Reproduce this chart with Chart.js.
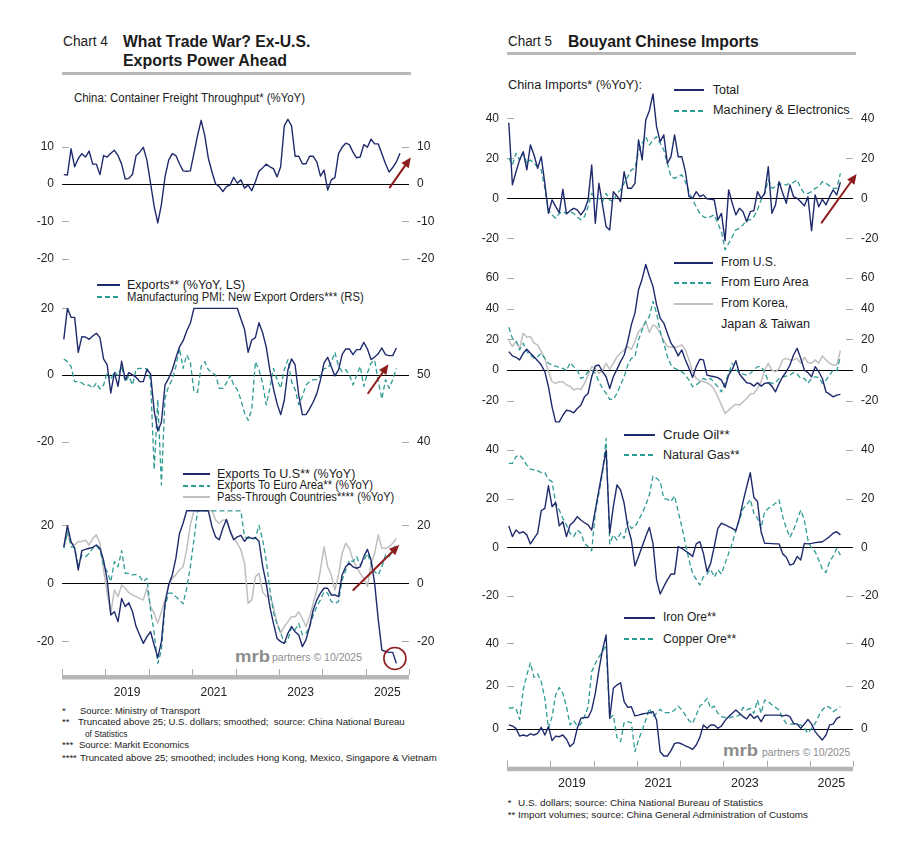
<!DOCTYPE html>
<html><head><meta charset="utf-8"><title>Charts 4 &amp; 5</title>
<script src="https://cdn.jsdelivr.net/npm/chart.js"></script>
<style>
html,body{margin:0;padding:0;background:#fff}
body{width:924px;height:860px;position:relative;overflow:hidden;font-family:"Liberation Sans",Arial,Helvetica,sans-serif;color:#1b1b1b}
.t{position:absolute;white-space:pre;transform-origin:0 50%}
.rule{position:absolute;background:#b8b8b8;height:3.5px}
.ls{position:absolute;height:1.5px}
canvas{position:absolute}
</style></head><body>
<script>
// ---------------- DATA (monthly, Jan 2018 onward) ----------------
const freight = [2.5,2.4,9.4,4.6,6.8,8.1,7.2,8.8,5.3,5.3,2.5,7.6,7.2,8.2,9.0,7.6,5.3,1.3,1.5,2.6,7.6,8.5,9.8,6.3,0.2,-6,-10.4,-5.5,1.9,6.3,8.1,7.6,5.4,3.5,3.4,3.5,8.1,12.9,17,12.9,6.8,3.2,0,-0.7,-2,-0.7,-0.3,1.8,0.2,1.1,-1.1,-0.3,-1.8,0.6,3.4,4.3,5.3,4.6,4.1,1.9,4.6,15.5,17.3,15.5,7.4,7.4,5.4,5.4,7.4,7.4,5.9,2.1,3.7,-1.6,1.1,1.7,8.1,9.8,10.9,10.5,8.5,7.0,7.2,10.5,9.8,12.0,10.7,10.7,8.1,5.4,3.2,4.4,5.9,8.2];
const exportsLS = [10.7,20,17.3,17.3,6.8,11.5,11.4,10.7,11.7,12.5,11.2,4.8,3.0,-5.4,0.7,-3.4,4.1,-1.5,0.7,0,-0.7,-2,-2,1.7,0.3,-10.7,-16.8,-14.2,-3,-1,1.5,5.1,8.4,10.2,13.2,15.5,20,20,20,20,20,20,20,20,20,20,20,20,20,16.8,13.7,6.8,10.5,11.2,15.7,12.7,8.4,1.5,-4.1,-8.6,-11.9,-7.6,1.5,4.8,3,-6.1,-11.9,-11.9,-10.2,-8.1,-5.6,-1.5,3.6,5.3,2.5,-0.3,1.5,6.1,7.8,7.8,6.1,7.6,7.6,9.8,7.8,4.6,5.4,6.4,8.1,6.1,5.8,5.8,8.1];
const pmiExportOrders = [52.4,52,51.3,49,49,48.8,48.4,48.5,48,48.8,47.9,48.5,50.4,49.3,50.5,49.9,51.3,49,49.8,48.5,50.9,51,51,50.9,49.3,35.8,46.3,33.5,46.5,48.3,49.3,51.3,54,51,53,52,47.5,47.4,51.3,52,50.8,50.3,50,48,48,48.8,49.9,48.5,47.8,46.3,44.3,43.2,44.8,52,50.8,48.8,45.5,48,51,49.3,48,50.8,52.3,49,47.8,45.5,46.8,48.5,49,49.3,49.3,49.8,51,51,51.9,53.4,51.3,50.5,50.8,50,48.5,49.9,51.3,48.3,50.3,51.8,52.2,49,46.4,49.3,48,49.3,51];
const exportsToUS = [12.6,19.9,14.4,12.1,4.6,11.3,11.7,12.1,12.4,13.2,12.1,8,1.1,-10.9,-9.8,-13.2,-5.2,-8,-6.7,-9.8,-14.9,-17.8,-20.7,-18.4,-16.7,-21.3,-25.6,-20.1,-6.9,-0.6,2.9,8.6,17.2,20.7,25,25,25,25,25,25,25,19.5,16,15,19,22,18,15,16,16.5,14.5,16,15.5,15.7,14.5,6,0,-8,-13.8,-19,-20.1,-20.7,-17.2,-14.9,-16.7,-17.8,-21.8,-19.5,-14.9,-9.2,-5.7,-3.4,-1.7,-1.7,-4,-4,-4.6,2.9,5.7,6.9,5.7,5.2,5.7,9.2,11.7,8,0,-12.6,-23,-23.5,-23.8,-23.8,-27.6];
const exportsToEuro = [12.1,17.8,12.6,12.4,5.7,9.8,9.2,10.3,12.1,12.9,11.5,6.3,4,0.6,7.5,5.7,11.3,3.4,3.4,2.9,3.1,2.3,0.6,1.7,-9.2,-17.2,-27.6,-23,-8,-3.4,-3.4,-4.6,-5.7,-7.1,-1.7,5.7,14.9,25,25,25,25,25,25,25,25,25,25,25,25,25,16,15.5,15.2,15.5,20,15,8,-2,-10,-14,-17,-20.7,-19.5,-15,-16,-13.8,-17.8,-17.2,-15,-11,-8,-5.7,-2.9,-3.4,-6.3,-6.9,-6.3,1.1,4.6,8,7.5,9.2,6.3,8,10.3,6.9,4,2.9,5.7,9.8,9.2,11.5,13.8];
const passThrough = [12.1,17.2,13.8,13.2,14.4,14.4,14.9,13.2,15.5,16.7,13.8,4.6,-3.4,-10.3,-2.3,-4.6,-0.6,-1.7,-3.2,-4,-4.6,-5.2,-5.7,-1.7,-8,-10.3,-13.8,-9.8,-5.7,-1.1,1.7,2.9,4.6,5.7,11.5,20.1,25,25,25,25,25,25,21.8,20.7,21.8,21.8,18.4,15.5,13.8,11.5,6.9,-6.9,-5.7,2.3,3.4,-2.9,-4.6,-4,-8,-13.8,-17.2,-14.9,-13.2,-11.5,-11.5,-9.8,-12.1,-14.9,-11.5,-6.9,-2.3,4.6,12.6,5.7,2.9,-2.3,2.9,10.3,13.8,12.1,8,5.7,3.4,1.7,-1.1,6.9,10.3,16.7,12.1,12.1,12.6,13.8,15.5];
const importsTotal = [37.8,6.7,13.3,19.2,23.3,14.2,26.7,21.7,15,20.8,7.5,-7.5,-0.8,-4.2,-7.2,4.5,-7.8,-6.2,-5,-5.8,-8.3,-5.8,-0.8,16.7,-12.5,7.5,-3.3,-14.2,-15.8,3.3,1.2,-1.7,13.3,5,5,7.5,29.2,19.2,39.2,43.8,52.2,35.8,28.3,31.7,17.5,20.8,31.7,20.8,20.8,13.3,0.8,0,3.3,0.8,1.7,-0.3,-0.5,-0.8,-10.8,-7.5,-21.2,4.2,-2.5,-8.3,-5,-6.7,-11.7,-6.7,-6.2,3.3,0,2.5,15.8,-7.5,-3.3,8.3,2.5,-2.5,6.7,0.8,0,-1.7,-3.8,0.8,-16.2,1.7,-4.2,-0.5,-3.3,0.8,4.2,1.7,8];
const importsMachinery = [20,16.7,22.5,19.2,22.5,17.5,19.2,17.5,15.8,14.2,5,-5.8,-8.3,-10,-7.5,-6.7,-7.5,-6.7,-7.5,-9.2,-10.8,-9.2,-4.2,2.5,0,0,-1.7,2.5,-0.8,-1.7,2.5,4.2,7.5,10.8,14.2,15,23.3,27.5,30.8,26.7,29.2,30.8,27.5,24.2,17.5,10.8,10,10.8,11.7,8.3,3.3,-0.8,-4.2,-7.5,-9.2,-10,-9.2,-8.3,-12.5,-16.7,-25.8,-22.5,-19.2,-15.8,-15,-13.3,-10.8,-10.8,-9.2,-5.8,-0.8,2.5,9.2,5,5.8,7.5,6.7,6.7,7.5,8,9.2,5,2.5,2.5,3.3,5,5.8,8.3,7.5,6.2,5,5,12.5];
const importsFromUS = [12,9.2,8.3,6.6,10.9,13.5,10.9,8.7,6.1,3.3,-1.1,-10.9,-24,-33.8,-33.8,-29.5,-26.2,-26.6,-27.9,-25.1,-22.9,-17.5,-15.3,-4.4,2.6,3.3,-1.1,-4.4,-12,-4.4,0.4,5.5,9.8,18.6,29.5,37.1,52.4,59.4,68.8,61.1,54.6,42.6,33.8,30.6,24,17.5,14.2,9.2,13.1,6.6,1.1,-4.8,2.2,7,6.6,-3.3,-3.9,-4.4,-5,-6.6,-11.4,-3.3,0.4,6.1,-2.6,-5.5,-8.3,-8.7,-10.5,-8.3,-10.5,-8.7,-8.3,-10.5,-14.2,-8.7,-4.4,-1.1,3.3,9.8,14.2,7.6,0,-1.7,-4.4,2.2,-1.1,-5.5,-14.2,-15.7,-17.5,-16.4,-15.9];
const importsFromEuro = [27.9,20.7,19.2,13.1,17.5,12,9.8,7.6,8.7,10.9,7.6,4.4,3.3,2.6,1.7,1.1,-0.4,4.8,2.2,0,-5.5,-4.4,-1.1,0,-2.2,-7.6,-12,-15.3,-19.2,-19.2,-15.3,-9.8,-4.4,3.3,7.6,8.7,19.7,26.2,31.7,34.9,44.8,37.1,25.1,17.5,8.7,3.3,1.1,0,-1.1,-3.3,-6.6,-10.9,-9.8,-7.6,-5.5,-6.6,-5.5,-8.3,-10.9,-14.2,-8.7,-2.2,4.4,0,-1.7,-2.6,-3.3,-2.2,0,2.2,2.2,-1.1,-7.6,-8.7,-8.3,-5.5,-4.4,-3.9,-3.3,-1.7,-2.6,-5.5,-5.5,-8.7,-5.5,-4.4,-4.8,-8.7,-6.6,-3.3,0,-0.4,8.7];
const importsFromKJT = [19.2,15.3,18.6,14.2,24,21.4,21.8,17.5,16.4,12,7.6,-1.1,-7.6,-8.7,-7.6,-7.6,-9.8,-10.5,-13.1,-12,-12.7,-8.7,-3.3,2.2,1.1,-2.2,-0.4,4.4,0.4,4.4,8.7,10.9,13.1,15.3,13.5,18.6,25.1,27.3,31.7,24.5,29.5,27.9,24,19.2,15.3,14.8,14.8,15.3,16.4,13.1,6.6,-1.1,-5.5,-7,-7.6,-8.3,-9.8,-12.7,-17.5,-22.9,-28.4,-26.2,-24,-22.3,-22.9,-20.7,-18.6,-15.7,-15.3,-12,-7.6,0,4.4,0,-1.1,1.1,6.6,7.6,6.6,6.6,7.6,4.4,8.3,4.8,4.4,6.6,4.4,9.2,6.6,4.4,3.3,3.3,12.7];
const crudeOil = [8.8,4.4,7.1,5.8,6.4,5.1,1.4,3.7,5.8,15.1,16,25.3,16.7,18.4,8.8,10.5,4.4,9.2,10.5,12.6,11.2,10.1,9.2,7.1,15.3,23.6,31.8,40,5.8,16.7,25.6,23.6,18.1,8.5,3,-7.7,-3.8,0.3,4.4,8.2,1.6,-13.4,-19.2,-16.2,-13.4,-11,-11,0.3,-0.4,-1.5,-2.5,-3.8,1.4,2.3,-2.5,-10,-6.6,0.3,7.8,9.9,9.2,8.5,7.8,6.8,11.9,18.8,24.9,30.7,20.5,18.8,6.4,1.6,1.6,1.5,1.4,1.4,-2.7,-4.1,-7.3,-6.8,-3.8,-5.2,1.6,1.4,1.6,1.9,2.1,2.3,3.3,4.4,5.8,6.4,5.1];
const naturalGas = [34.5,34.5,37.3,37.9,36.2,33.8,32.1,31.8,31.5,30.7,30.7,27.9,27,18.1,15.3,11.9,9.2,5.8,4.4,7.1,5.8,1.6,0.3,-1.4,14,22.2,30.4,44.8,1.4,5.1,3,5.8,3.7,10.5,7.8,8.5,11.2,14,17.4,21.5,29.3,28.4,27,20.1,19.7,18.8,21.1,14.7,8.5,1.6,-5.2,-10.7,-13.2,-15.5,-12.1,-11,-9,-12.3,-9.3,-11,-6.6,-2.5,1.6,7.1,11.2,16,17.4,19.7,14,11.9,7.8,14.7,16,17,18.1,19.5,12.6,7.8,4.1,7.1,11.2,15.3,11.2,3,-0.4,-1.8,-5.2,-9,-10.4,-5.9,-3.6,-0.4,-3.2];
const ironOre = [1.9,1.4,0.3,-3.3,-2.8,-3.3,-2.3,-2.8,-2,0.8,-2.8,1.1,-5.4,-3.3,-3.6,-2.8,-4.8,-8.2,-6.7,0.3,5,5.4,5.4,8.9,16.6,27.5,36.9,43.9,5,19,20.5,21.6,12.8,10.1,10.4,6.1,6.5,7,7.3,7.6,8.1,4.2,-10.6,-12.6,-12.6,-10.1,-6.7,-6.4,-7,-7.9,-8.6,-9.5,-7.5,-3.9,1.9,0.3,1.9,1.9,0.3,1.4,3.9,5.8,7.3,8.9,7.3,5.8,4.7,7,5,6.1,3.4,6.4,6.5,6.5,6.5,6.5,6.1,6.5,5.8,2.6,2.3,0.3,2.3,4.5,2.3,-1.2,-3.3,-5.1,-2.8,1.9,2.3,5,5.8];
const copperOre = [9.6,10,9.6,4.5,18.2,25.2,30.9,24.1,25.7,22.1,14.3,0.3,5.8,15.9,19.4,16.6,10.4,1.9,3.9,1.4,2.3,5.8,10.4,26.7,30.6,33.7,36.1,39.2,5,6.5,-3.9,-5.9,3,3.4,3,-10.6,-5.1,-0.5,4.2,9.6,5.8,7.3,9.2,7.6,7.6,7.6,8.9,10.7,8.9,6.5,3.9,2.6,6.5,10.7,12,14.3,9.6,10.7,7.3,5.8,5.4,5,5.8,5.8,6.5,10.1,8.9,9.6,7.3,13.5,7.3,13.5,12.8,11.2,10.1,8.9,5,2.6,2.3,2.3,1.9,1.9,0.3,-2,0.3,2.6,6.1,8.9,10.7,10.1,8.1,9.2,10.4];

// tick labels / axis values
const yearBoundaries = [0,12,24,36,48,60,72,84,96];   // months since Jan 2018
const yearLabelMonths = [18,42,66,90];
const yearLabels = ['2019','2021','2023','2025'];
const ticksFreight = [10,0,-10,-20];
const ticksExports = [20,0,-20];
const ticksPMI = [50,40];
const ticksDest = [20,0,-20];
const ticksImpTotal = [40,20,0,-20];
const ticksImpOrigin = [60,40,20,0,-20];
const ticksEnergy = [40,20,0,-20];
const ticksOre = [40,20,0];

// ---------------- STYLE / LAYOUT ----------------
const NAVY='#1f2a6c', TEAL='#2e9b94', GRAY='#bfbfbf', RED='#8e1d1d', TXT='#1b1b1b';
Chart.defaults.font.family='"Liberation Sans", Arial, sans-serif';
Chart.defaults.color='#222';

function T(text,x,cy,size,o={}){
  const d=document.createElement('div');
  d.className='t'; d.textContent=text;
  const lh=Math.round(size*1.2);
  d.style.left=x+'px'; d.style.top=(cy-lh/2)+'px';
  d.style.fontSize=size+'px'; d.style.lineHeight=lh+'px';
  if(o.bold) d.style.fontWeight='bold';
  d.style.color=o.color||TXT;
  if(o.w) d.dataset.w=o.w;
  document.body.appendChild(d);
}
function rule(x,y,w){const d=document.createElement('div');d.className='rule';d.style.left=x+'px';d.style.top=y+'px';d.style.width=w+'px';document.body.appendChild(d);}
function sample(x1,x2,cy,kind){
  const d=document.createElement('div');d.className='ls';
  d.style.left=Math.round(x1)+'px';d.style.width=Math.round(x2-x1)+'px';d.style.top=Math.round(cy-0.75)+'px';
  if(kind==='navy') d.style.background=NAVY;
  else if(kind==='gray') d.style.background=GRAY;
  else d.style.background='repeating-linear-gradient(to right,'+TEAL+' 0 5px,transparent 5px 8px)';
  document.body.appendChild(d);
}

// Titles
T('Chart 4',62.5,41,14,{w:45});
T('What Trade War? Ex-U.S.',122.7,41,16,{bold:1,w:187.3});
T('Exports Power Ahead',122.7,60.2,16,{bold:1,w:164});
rule(62,71.7,349);
T('Chart 5',507.7,41,14,{w:44});
T('Bouyant Chinese Imports',567.7,41,16,{bold:1,w:190.7});
rule(507,51.7,349);

// Left panel texts
T('China: Container Freight Throughput* (%YoY)',74,98.3,12,{w:231});
sample(96.7,120,285,'navy'); sample(96.7,120,296.7,'teal');
T('Exports** (%YoY, LS)',126.7,285,12,{w:118.3});
T('Manufacturing PMI: New Export Orders*** (RS)',126.7,296.7,12,{w:236.7});
sample(183.3,210,474,'navy'); sample(183.3,210,485.3,'teal'); sample(183.3,210,496.7,'gray');
T('Exports To U.S** (%YoY)',216.7,474,12,{w:138.3});
T('Exports To Euro Area** (%YoY)',216.7,485.3,12,{w:156});
T('Pass-Through Countries**** (%YoY)',216.7,496.7,12,{w:177.3});
T('mrb',235,656.7,17,{bold:1,color:'#8c8c8c',w:35});
T('partners \u00a9 10/2025',272,657.5,11,{color:'#8c8c8c',w:90});
T('*',62,710,9.5); T('Source: Ministry of Transport',80,710,9.5,{w:120});
T('**',62,721.7,9.5); T('Truncated above 25; U.S. dollars; smoothed;  source: China National Bureau',78.3,721.7,9.5,{w:326.7});
T('of Statistics',85,733,9.5,{w:42.3});
T('***',62,744.7,9.5); T('Source: Markit Economics',79.3,744.7,9.5,{w:110});
T('****',62,757,9.5); T('Truncated above 25; smoothed; includes Hong Kong, Mexico, Singapore & Vietnam',80,757,9.5,{w:356.7});

// Right panel texts
T('China Imports* (%YoY):',507.7,85,12.5,{w:134});
sample(674,704.3,90,'navy'); sample(674,704.3,110.7,'teal');
T('Total',712.7,90,12.5); T('Machinery & Electronics',712.7,110.7,12.5,{w:136.7});
sample(674,712.7,262.7,'navy'); sample(674,712.7,282.7,'teal'); sample(674,712.7,303.3,'gray');
T('From U.S.',720.7,262.7,12.5,{w:55.3}); T('From Euro Area',720.7,282.7,12.5,{w:87.7});
T('From Korea,',720.7,303.3,12.5,{w:67}); T('Japan & Taiwan',720.7,324,12.5,{w:89});
sample(624.3,655.7,435,'navy'); sample(624.3,655.7,455,'teal');
T('Crude Oil**',663.3,435,12.5,{w:66.7}); T('Natural Gas**',663.3,455,12.5,{w:76.7});
sample(624.3,655.7,617.3,'navy'); sample(624.3,655.7,639,'teal');
T('Iron Ore**',663.3,617.3,12.5,{w:53.3}); T('Copper Ore**',663.3,639,12.5,{w:73.3});
T('mrb',723.3,751,17,{bold:1,color:'#8c8c8c',w:35});
T('partners \u00a9 10/2025',761.7,752,11,{color:'#8c8c8c',w:88.3});
T('*',507.7,802.3,9.5); T('U.S. dollars; source: China National Bureau of Statistics',518.3,802.3,9.5,{w:245});
T('**',507.7,814,9.5); T('Import volumes; source: China General Administration of Customs',518.3,814,9.5,{w:290});

// fit text widths
document.querySelectorAll('.t[data-w]').forEach(el=>{
  const w=el.getBoundingClientRect().width;
  if(w>0) el.style.transform='scaleX('+(parseFloat(el.dataset.w)/w)+')';
});

// ---------------- CHARTS ----------------
const toPts = vals => vals.map((v,i)=>({x:i+0.5,y:v}));
function line(label,vals,kind,axis){
  const s={label,data:toPts(vals),yAxisID:axis||'y',pointRadius:0,tension:0,fill:false,borderJoinStyle:'round'};
  if(kind==='navy'){s.borderColor=NAVY;s.borderWidth=1.4;}
  else if(kind==='gray'){s.borderColor=GRAY;s.borderWidth=1.5;}
  else {s.borderColor=TEAL;s.borderWidth=1.3;s.borderDash=[5,3];}
  return s;
}
function arrowPath(ctx,x1,y1,x2,y2){
  const a=Math.atan2(y2-y1,x2-x1),L=10,W=4.5;
  const bx=x2-L*Math.cos(a),by=y2-L*Math.sin(a);
  ctx.beginPath();ctx.moveTo(x1,y1);ctx.lineTo(bx,by);ctx.stroke();
  ctx.beginPath();ctx.moveTo(x2,y2);ctx.lineTo(bx+W*Math.sin(a),by-W*Math.cos(a));ctx.lineTo(bx-W*Math.sin(a),by+W*Math.cos(a));ctx.closePath();ctx.fill();
}
function decor(opt){
  return {
    id:'decor',
    beforeDatasetsDraw(chart){
      const {ctx,chartArea:a,scales}=chart;
      ctx.save();ctx.lineWidth=1;ctx.strokeStyle='#a9a9a9';
      ['y','y2'].forEach(id=>{
        const s=scales[id];
        s.ticks.forEach(t=>{
          const p=Math.round(s.getPixelForValue(t.value))+0.5;
          ctx.beginPath();
          if(id==='y'){ctx.moveTo(a.left,p);ctx.lineTo(a.left+7,p);}
          else{ctx.moveTo(a.right-7,p);ctx.lineTo(a.right,p);}
          ctx.stroke();
        });
      });
      if(opt.xAxis){
        const xs=scales.x;
        ctx.fillStyle='#b5b5b5';ctx.fillRect(a.left,a.bottom,a.right-a.left,4.5);
        yearBoundaries.forEach(m=>{
          const px=Math.round(xs.getPixelForValue(m))+0.5;
          ctx.beginPath();ctx.moveTo(px,a.bottom-6);ctx.lineTo(px,a.bottom);ctx.stroke();
        });
      }
      const z=Math.round(scales.y.getPixelForValue(0))+0.5;
      ctx.strokeStyle='#000';ctx.beginPath();ctx.moveTo(a.left,z);ctx.lineTo(a.right,z);ctx.stroke();
      ctx.restore();
    },
    afterDatasetsDraw(chart){
      const {ctx,scales}=chart;const xs=scales.x,ys=scales.y;
      ctx.save();ctx.strokeStyle=RED;ctx.fillStyle=RED;ctx.lineWidth=2;ctx.lineCap='round';
      (opt.arrows||[]).forEach(r=>arrowPath(ctx,xs.getPixelForValue(r[0]),ys.getPixelForValue(r[1]),xs.getPixelForValue(r[2]),ys.getPixelForValue(r[3])));
      ctx.lineWidth=1.6;
      (opt.circles||[]).forEach(c=>{ctx.beginPath();ctx.arc(xs.getPixelForValue(c[0]),ys.getPixelForValue(c[1]),c[2],0,Math.PI*2);ctx.stroke();});
      ctx.restore();
    }
  };
}
const COLS={L:{left:20,width:430,axL:42,axR:41,yearFont:12},R:{left:465,width:430,axL:42,axR:42,yearFont:12.5}};
function panel(opt){
  const c=COLS[opt.col];const hasX=!!opt.xAxis;const XH=30;
  const top=Math.floor(opt.areaTop)-24;const padTop=opt.areaTop-top;
  const bottom=hasX?Math.ceil(opt.areaBottom+XH):Math.ceil(opt.areaBottom+24);
  const padBottom=hasX?bottom-opt.areaBottom-XH:bottom-opt.areaBottom;
  const cv=document.createElement('canvas');
  cv.width=c.width;cv.height=bottom-top;
  cv.style.left=c.left+'px';cv.style.top=top+'px';cv.style.width=c.width+'px';cv.style.height=(bottom-top)+'px';
  document.body.appendChild(cv);
  const yAxis=(pos,min,max,ticks,w)=>({type:'linear',position:pos,min,max,
    afterBuildTicks:s=>{s.ticks=ticks.map(v=>({value:v}));},
    afterFit:s=>{s.width=w;},
    grid:{display:false,drawTicks:false},border:{display:false},
    ticks:{padding:8,color:'#222',font:{size:12}}});
  const y2=opt.y2||{min:opt.min,max:opt.max,ticks:opt.ticks};
  const xScale={type:'linear',min:0,max:96,display:hasX,
           afterBuildTicks:s=>{s.ticks=yearLabelMonths.map(v=>({value:v}));},
           grid:{display:false,drawTicks:false},border:{display:false},
           ticks:{padding:opt.xPad||9,color:'#222',font:{size:c.yearFont},maxRotation:0,autoSkip:false,callback:(v,i)=>yearLabels[i]}};
  if(hasX) xScale.afterFit=s=>{s.height=XH;};
  new Chart(cv,{type:'line',data:{datasets:opt.datasets},
    options:{responsive:false,animation:false,events:[],
      layout:{padding:{top:padTop,bottom:padBottom,left:0,right:0}},
      plugins:{legend:{display:false},tooltip:{enabled:false}},
      scales:{
        x:xScale,
        y:yAxis('left',opt.min,opt.max,opt.ticks,c.axL),
        y2:yAxis('right',y2.min,y2.max,y2.ticks,c.axR)
      }},
    plugins:[decor(opt)]});
}

// Chart 4
panel({col:'L',areaTop:109.1,areaBottom:277.6,min:-25,max:20,ticks:ticksFreight,
  datasets:[line('Container Freight Throughput',freight,'navy')],
  arrows:[[90.7,-0.9,96.5,7.1]]});
panel({col:'L',areaTop:305,areaBottom:494.9,min:-36,max:21,ticks:ticksExports,
  y2:{min:32,max:60.5,ticks:ticksPMI},
  datasets:[line('Exports (%YoY, LS)',exportsLS,'navy'),line('Manufacturing PMI: New Export Orders (RS)',pmiExportOrders,'teal','y2')],
  arrows:[[84.7,-5.5,90.3,3.2]]});
panel({col:'L',areaTop:505,areaBottom:675,min:-31.6,max:27,ticks:ticksDest,xAxis:true,xPad:10,
  datasets:[line('Exports To U.S',exportsToUS,'navy'),line('Exports To Euro Area',exportsToEuro,'teal'),line('Pass-Through Countries',passThrough,'gray')],
  arrows:[[80.6,-2.3,93.3,13.2]],circles:[[92.1,-25.9,11]]});
// Chart 5
panel({col:'R',areaTop:88.3,areaBottom:258.3,min:-30,max:55,ticks:ticksImpTotal,
  datasets:[line('Total',importsTotal,'navy'),line('Machinery & Electronics',importsMachinery,'teal')],
  arrows:[[87.3,-12.2,97.0,12.2]]});
panel({col:'R',areaTop:255,areaBottom:428.3,min:-38,max:75,ticks:ticksImpOrigin,
  datasets:[line('From U.S.',importsFromUS,'navy'),line('From Euro Area',importsFromEuro,'teal'),line('From Korea, Japan & Taiwan',importsFromKJT,'gray')]});
panel({col:'R',areaTop:425.7,areaBottom:608.1,min:-25,max:50,ticks:ticksEnergy,
  datasets:[line('Crude Oil',crudeOil,'navy'),line('Natural Gas',naturalGas,'teal')]});
panel({col:'R',areaTop:621.9,areaBottom:766.7,min:-17.6,max:50,ticks:ticksOre,xAxis:true,xPad:9,
  datasets:[line('Iron Ore',ironOre,'navy'),line('Copper Ore',copperOre,'teal')]});
</script>
</body></html>
